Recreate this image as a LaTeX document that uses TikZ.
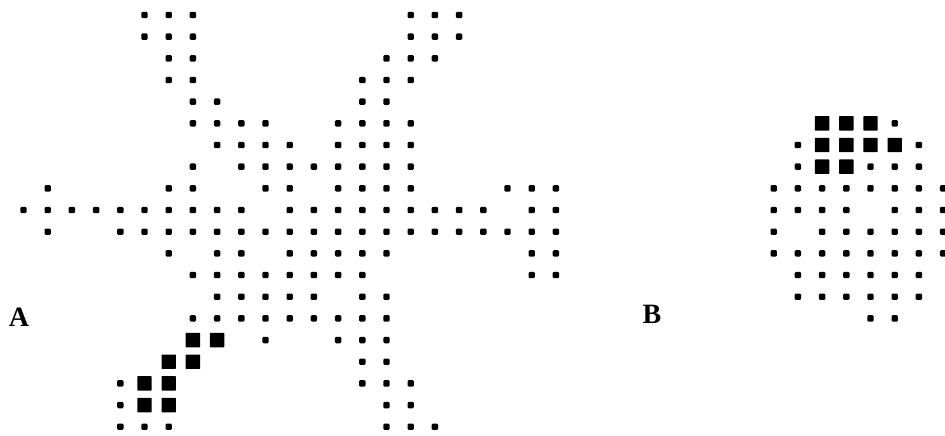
\documentclass[tikz,border=0pt]{standalone}
\usepackage{fontspec}
\setmainfont{Liberation Serif}

\begin{document}
\begin{tikzpicture}[x=1pt, y=-1pt,
      dot/.style={fill=black, rounded corners=1.2pt},
      blob/.style={fill=black, rounded corners=0.6pt},
      lbl/.style={font=\fontsize{28}{28}\selectfont\bfseries, inner sep=0pt}]
    \useasboundingbox (0,0) rectangle (945,436);
    % small dots: row / columns (A left, B right)
    \foreach \r/\cs in {0/{5,6,7,16,17,18}, 1/{5,6,7,16,17,18}, 2/{6,7,15,16,17}, 3/{6,7,14,15,16},
        4/{7,8,14,15}, 5/{7,8,9,10,13,14,15,16,36}, 6/{8,9,10,11,13,14,15,16,32,37},
        7/{7,9,10,11,12,13,14,15,16,32,35,36,37},
        8/{1,6,7,10,11,13,14,15,16,20,21,22,31,32,33,34,35,36,37,38},
        9/{0,1,2,3,4,5,6,7,8,9,11,12,13,14,15,16,17,18,19,21,22,31,32,33,34,36,37,38},
        10/{1,4,5,6,7,8,9,10,11,12,13,14,15,16,17,18,19,20,21,22,31,33,34,35,36,37,38},
        11/{6,8,9,11,12,13,14,15,21,22,31,32,33,34,35,36,37,38},
        12/{7,8,9,10,11,12,13,14,21,22,32,33,34,35,36,37},
        13/{8,9,10,11,12,14,15,32,33,34,35,36,37}, 14/{7,8,9,10,11,12,13,14,15,35,36},
        15/{10,13,14,15}, 16/{14,15}, 17/{4,14,15,16}, 18/{4,15,16}, 19/{4,5,6,15,16,17}}
      \foreach \c in \cs
        \fill[dot] ({23.5+24.2*\c-3.2},{15+21.67*\r-3.2}) rectangle ++(6.4,6.4);
    % marked cells
    \foreach \r/\cs in {5/{33,34,35}, 6/{33,34,35,36}, 7/{33,34},
        15/{7,8}, 16/{6,7}, 17/{5,6}, 18/{5,6}}
      \foreach \c in \cs
        \fill[blob] ({23.5+24.2*\c-7.2},{15+21.67*\r-7.2}) rectangle ++(14.4,14.4);
    \node[lbl] (labA) at (19,317) {A};
    \node[lbl] (labB) at (652,314) {B};
  \end{tikzpicture}
\end{document}
